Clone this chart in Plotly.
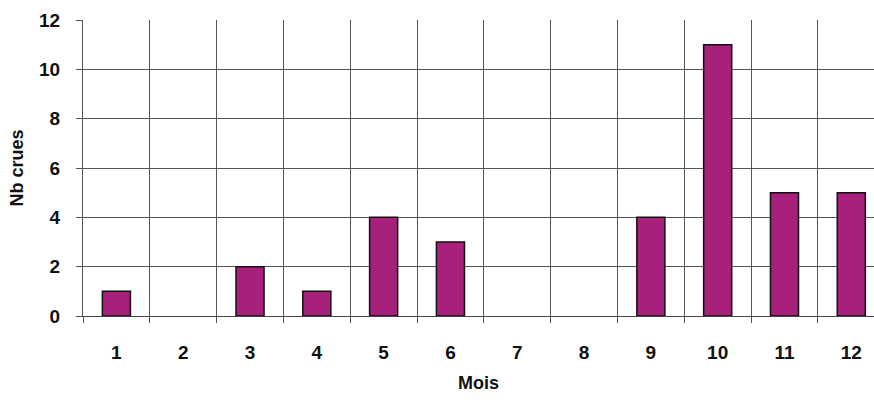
import plotly.graph_objects as go

months = ["1", "2", "3", "4", "5", "6", "7", "8", "9", "10", "11", "12"]
nb_crues = [1, 0, 2, 1, 4, 3, 0, 0, 4, 11, 5, 5]
y_ticks = [0, 2, 4, 6, 8, 10, 12]

fig = go.Figure()
fig.add_trace(go.Bar(
    x=months, y=[v if v else None for v in nb_crues], width=0.42,
    marker=dict(color="#A6207C", line=dict(color="#111111", width=1.5)),
))

font_fam = "Liberation Sans, Arial, sans-serif"
fig.update_layout(
    width=874, height=403,
    margin=dict(l=83, r=0, t=20, b=87),
    paper_bgcolor="white", plot_bgcolor="white",
    showlegend=False,
    font=dict(family=font_fam, color="#111111"),
    xaxis=dict(
        type="category", range=[-0.5, 11.34], automargin=False,
        tickson="boundaries", ticks="outside", ticklen=6, tickcolor="#555555",
        showgrid=True, gridcolor="#555555", gridwidth=1,
        tickfont=dict(size=19, family=font_fam, weight="bold"),
        ticklabelstandoff=19,
        title=dict(text="Mois", font=dict(size=18, weight="bold"), standoff=14),
        showline=True, linecolor="#444444", linewidth=1,
    ),
    yaxis=dict(
        range=[0, 12], tickvals=y_ticks, automargin=False,
        ticks="outside", ticklen=6, tickcolor="#555555",
        showgrid=True, gridcolor="#555555", gridwidth=1,
        tickfont=dict(size=19, family=font_fam, weight="bold"),
        ticklabelstandoff=12,
        title=dict(text="Nb crues", font=dict(size=18, weight="bold"), standoff=10),
        showline=True, linecolor="#555555", linewidth=1,
        zeroline=False,
    ),
)
fig.write_html(
    "out.html",
    config={"displayModeBar": False},
    post_script="document.body.style.margin='0';document.body.style.overflow='hidden';",
)
